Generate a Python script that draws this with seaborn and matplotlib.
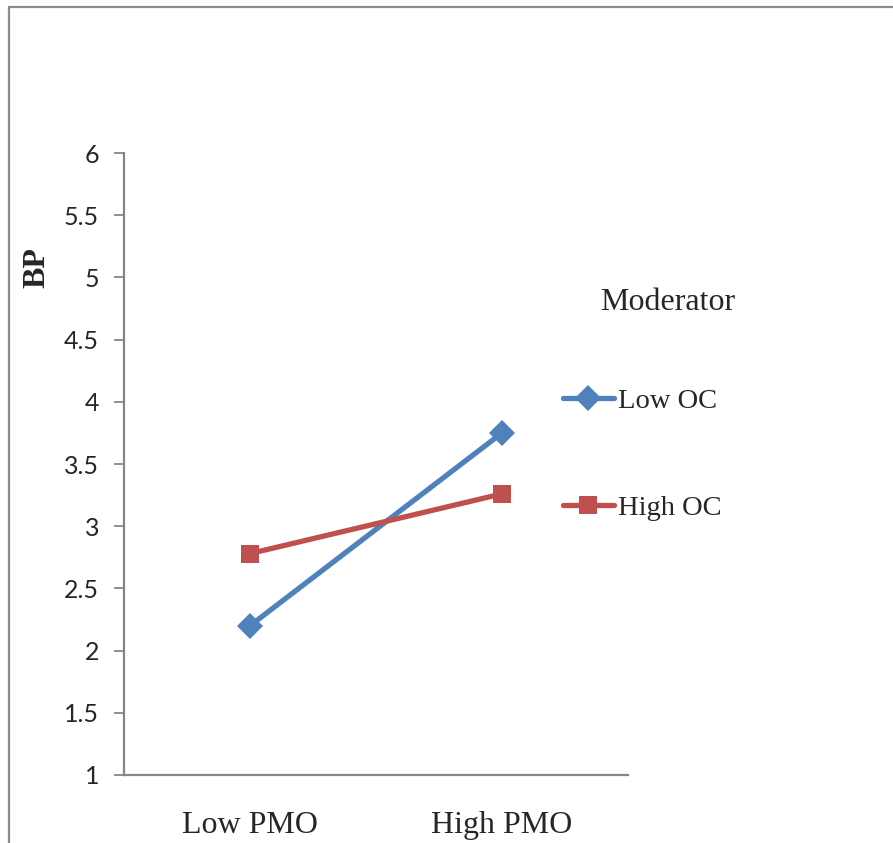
import numpy as np
import pandas as pd
import matplotlib.pyplot as plt
import matplotlib.patches as patches
import seaborn as sns

# data
pmo_levels = ["Low PMO", "High PMO"]
low_oc = [2.2, 3.75]
high_oc = [2.78, 3.26]
y_ticks = [1, 1.5, 2, 2.5, 3, 3.5, 4, 4.5, 5, 5.5, 6]

df = pd.DataFrame({
    "PMO": pmo_levels * 2,
    "BP": low_oc + high_oc,
    "Moderator": ["Low OC"] * 2 + ["High OC"] * 2,
})

sns.set_style("white")
plt.rcParams["font.family"] = ["Liberation Serif", "DejaVu Serif"]

fig = plt.figure(figsize=(8.93, 8.43), dpi=100)

# outer frame
fig.patches.append(patches.Rectangle((9 / 893, -0.1), 1.2, 1.1 - 7 / 843,
                                     transform=fig.transFigure, fill=False,
                                     edgecolor="#8c8c8c", linewidth=1.6, zorder=1))

ax = fig.add_axes([124 / 893, 1 - 775 / 843, (628 - 124) / 893, (775 - 153) / 843])
ax.patch.set_alpha(0)

sns.lineplot(data=df, x="PMO", y="BP", hue="Moderator", style="Moderator",
             markers={"Low OC": "D", "High OC": "s"}, dashes=False,
             palette={"Low OC": "#4F81BD", "High OC": "#C0504D"},
             linewidth=3.8, markersize=13, markeredgewidth=0, ax=ax)

ax.set_xlim(-0.5, 1.5)
ax.set_ylim(1, 6)
ax.set_yticks(y_ticks)
ax.set_yticklabels([f"{t:g}" for t in y_ticks], family="Lato", fontsize=18)
ax.set_xticks([0, 1])
ax.set_xticklabels(pmo_levels, fontsize=23)
ax.set_xticks([0.5, 1.5], minor=True)
ax.tick_params(axis="x", which="major", length=0, pad=26)
ax.tick_params(axis="x", which="minor", length=8, width=1.3, color="#868686", direction="out")
ax.tick_params(axis="y", length=7, width=1.3, color="#868686", direction="out", pad=11, left=True)
ax.set_xlabel("")
ax.set_ylabel("")

for side in ["top", "right"]:
    ax.spines[side].set_visible(False)
for side in ["left", "bottom"]:
    ax.spines[side].set_color("#868686")
    ax.spines[side].set_linewidth(1.6)

fig.text(37 / 893, 1 - 268 / 843, "BP", rotation=90, fontsize=23, fontweight="bold",
         ha="center", va="center")

# legend title sits apart from the entries, as in the original
fig.text(668 / 893, 1 - 302 / 843, "Moderator", fontsize=23, ha="center", va="center")

handles, labels = ax.get_legend_handles_labels()
leg = ax.legend(handles, labels, frameon=False,
                loc="upper left", bbox_to_anchor=(537 / 893, 1 - 362 / 843),
                bbox_transform=fig.transFigure, fontsize=20.5,
                labelspacing=2.85, handlelength=1.8, handletextpad=0.15)

fig.savefig("out.png", dpi=100)
